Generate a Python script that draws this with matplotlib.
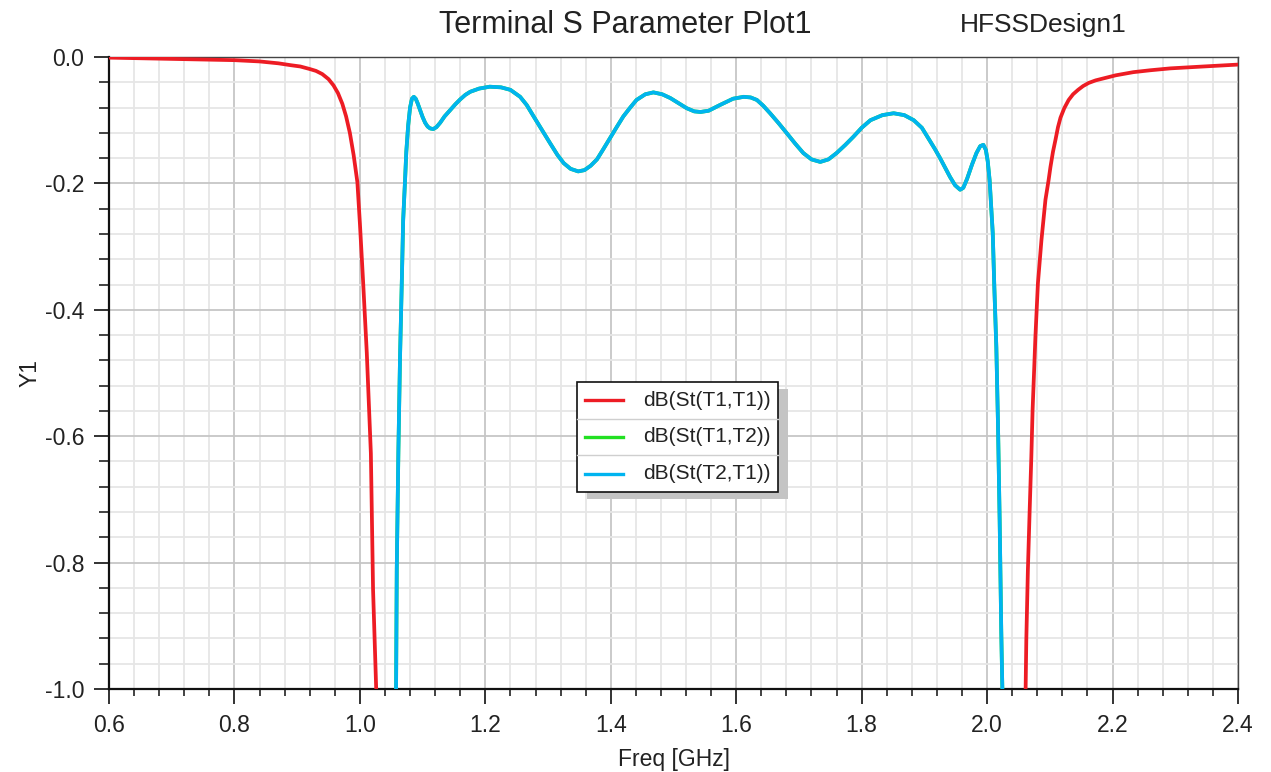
import matplotlib
matplotlib.use("Agg")
from matplotlib import pyplot as plt
from matplotlib.patches import Rectangle
from matplotlib.lines import Line2D
from matplotlib.ticker import MultipleLocator, FormatStrFormatter

# dB(St(T1,T1)) -- return loss, goes off-chart in the passband
freq_s11 = [0.60, 0.65, 0.70, 0.75, 0.80, 0.84, 0.87, 0.89, 0.905, 0.92, 0.93, 0.94, 0.95, 0.958,
            0.965, 0.972, 0.978, 0.984, 0.99, 0.996, 1.000, 1.005, 1.011, 1.0175, 1.021, 1.026, 1.028,
            2.059, 2.0614, 2.0625, 2.065, 2.0677, 2.0705, 2.0725, 2.077, 2.081, 2.0866, 2.093,
            2.098, 2.101, 2.105, 2.109, 2.113, 2.117, 2.123, 2.13, 2.137, 2.145, 2.153, 2.162,
            2.173, 2.185, 2.205, 2.233, 2.26, 2.292, 2.345, 2.40]
s11_db = [-0.001, -0.002, -0.003, -0.004, -0.005, -0.007, -0.010, -0.013, -0.015, -0.019, -0.022, -0.027,
          -0.035, -0.045, -0.057, -0.074, -0.094, -0.120, -0.155, -0.198, -0.263, -0.353, -0.468, -0.627,
          -0.843, -1.0, -1.04,
          -1.04, -1.0, -0.922, -0.812, -0.722, -0.633, -0.559, -0.443, -0.358, -0.290, -0.226,
          -0.195, -0.174, -0.150, -0.131, -0.111, -0.096, -0.081, -0.068, -0.059, -0.052, -0.046, -0.041,
          -0.037, -0.034, -0.029, -0.024, -0.021, -0.018, -0.015, -0.012]

# dB(St(T2,T1)) -- insertion loss; St(T1,T2) is identical (reciprocal), hidden underneath
freq_s21 = [1.0565, 1.0577, 1.0588, 1.0614, 1.064, 1.067, 1.069, 1.072, 1.074, 1.077, 1.080, 1.083,
            1.086, 1.089, 1.092, 1.096, 1.100, 1.104, 1.108, 1.112, 1.117, 1.122, 1.128, 1.135, 1.144,
            1.152, 1.160, 1.168, 1.176, 1.19, 1.207, 1.225, 1.24, 1.2555, 1.266, 1.277, 1.290, 1.303,
            1.315, 1.325, 1.336, 1.348, 1.358, 1.368, 1.378, 1.388, 1.399, 1.410, 1.420, 1.431, 1.441,
            1.455, 1.468, 1.482, 1.495, 1.508, 1.521, 1.533, 1.543, 1.556, 1.574, 1.595, 1.612, 1.623,
            1.633, 1.643, 1.654, 1.667, 1.681, 1.694, 1.707, 1.720, 1.734, 1.747, 1.760, 1.774, 1.787,
            1.800, 1.814, 1.833, 1.851, 1.868, 1.883, 1.896, 1.909, 1.917, 1.925, 1.933, 1.941, 1.949,
            1.957, 1.962, 1.968, 1.976, 1.983, 1.989, 1.994, 1.998, 2.001, 2.004, 2.009, 2.0115,
            2.0147, 2.0173, 2.020, 2.0226, 2.0243, 2.026]
s21_db = [-1.04, -1.0, -0.809, -0.622, -0.475, -0.348, -0.258, -0.195, -0.15, -0.108, -0.080, -0.066,
          -0.063, -0.066, -0.073, -0.084, -0.095, -0.104, -0.110, -0.113, -0.114, -0.111, -0.104, -0.094,
          -0.084, -0.075, -0.067, -0.060, -0.055, -0.050, -0.047, -0.048, -0.052, -0.063, -0.076, -0.094,
          -0.115, -0.136, -0.155, -0.168, -0.177, -0.181, -0.179, -0.172, -0.162, -0.146, -0.128, -0.110,
          -0.094, -0.080, -0.068, -0.059, -0.056, -0.059, -0.065, -0.073, -0.081, -0.086, -0.087, -0.085,
          -0.076, -0.066, -0.063, -0.064, -0.068, -0.077, -0.089, -0.104, -0.121, -0.137, -0.152, -0.162,
          -0.166, -0.162, -0.152, -0.139, -0.126, -0.112, -0.100, -0.092, -0.089, -0.092, -0.100, -0.112,
          -0.133, -0.146, -0.160, -0.175, -0.190, -0.203, -0.21, -0.207, -0.193, -0.170, -0.152, -0.141,
          -0.139, -0.147, -0.165, -0.195, -0.279, -0.364, -0.459, -0.579, -0.733, -0.911, -1.0, -1.04]
freq_s12 = freq_s21
s12_db = s21_db

labels = ["dB(St(T1,T1))", "dB(St(T1,T2))", "dB(St(T2,T1))"]
colors = ["#ED1C24", "#22E022", "#00B4F0"]

W, H = 1271, 772


def fx(px):
    return px / W


def fy(py):
    return 1 - py / H


def draw_legend(fig):
    # HFSS-style boxed legend with separators and drop shadow, in pixel coords
    x0, x1, y0, y1 = 577, 778, 382, 492
    fig.patches.append(Rectangle((fx(x0 + 10), fy(y1 + 7)), fx(x1 - x0), (y1 - y0) / H,
                                 transform=fig.transFigure, facecolor="#C4C4C4", edgecolor="none", zorder=5))
    fig.patches.append(Rectangle((fx(x0), fy(y1)), fx(x1 - x0), (y1 - y0) / H,
                                 transform=fig.transFigure, facecolor="white", edgecolor="#111111",
                                 linewidth=1.2, zorder=6))
    row_h = (y1 - y0) / 3
    for i, (lab, col) in enumerate(zip(labels, colors)):
        yc = y0 + row_h * (i + 0.5)
        fig.lines.append(Line2D([fx(585), fx(623)], [fy(yc), fy(yc)], transform=fig.transFigure,
                                color=col, linewidth=2.4, zorder=7))
        fig.text(fx(643), fy(yc), lab, ha="left", va="center", fontsize=15, color="#222222", zorder=7)
        if i > 0:
            ys = y0 + row_h * i
            fig.lines.append(Line2D([fx(x0), fx(x1)], [fy(ys), fy(ys)], transform=fig.transFigure,
                                    color="#CFCFCF", linewidth=1.0, zorder=7))


def main():
    plt.rcParams.update({"font.family": ["Liberation Sans", "DejaVu Sans"],
                         "axes.unicode_minus": False})
    fig = plt.figure(figsize=(W / 100, H / 100), dpi=100)
    ax = fig.add_axes([fx(109), fy(689), fx(1238 - 109), (689 - 57) / H])

    ax.plot(freq_s11, s11_db, color=colors[0], linewidth=2.7, zorder=3, solid_joinstyle="round")
    ax.plot(freq_s12, s12_db, color=colors[1], linewidth=2.7, zorder=3, solid_joinstyle="round")
    ax.plot(freq_s21, s21_db, color=colors[2], linewidth=2.7, zorder=4, solid_joinstyle="round")

    ax.set_xlim(0.6, 2.4)
    ax.set_ylim(-1.0, 0.0)
    ax.xaxis.set_major_locator(MultipleLocator(0.2))
    ax.xaxis.set_minor_locator(MultipleLocator(0.04))
    ax.yaxis.set_major_locator(MultipleLocator(0.2))
    ax.yaxis.set_minor_locator(MultipleLocator(0.04))
    ax.xaxis.set_major_formatter(FormatStrFormatter("%.1f"))
    ax.yaxis.set_major_formatter(FormatStrFormatter("%.1f"))

    ax.grid(which="major", color="#C6C6C6", linewidth=1.3, zorder=0)
    ax.grid(which="minor", color="#E6E6E6", linewidth=1.3, zorder=0)
    ax.set_axisbelow(True)

    ax.tick_params(which="major", direction="out", length=11, width=1.3, color="#222222",
                   labelsize=16.5, labelcolor="#222222", pad=7)
    ax.tick_params(which="minor", direction="out", length=5, width=1.2, color="#222222")
    ax.tick_params(axis="y", which="minor", length=7)
    for side in ["left", "bottom"]:
        ax.spines[side].set_color("#111111")
        ax.spines[side].set_linewidth(1.6)
    for side in ["top", "right"]:
        ax.spines[side].set_color("#444444")
        ax.spines[side].set_linewidth(1.0)

    ax.set_xlabel("Freq [GHz]", fontsize=16.5, color="#222222", labelpad=8)
    ax.set_ylabel("Y1", fontsize=16.5, color="#222222", labelpad=2)

    fig.text(fx(625), fy(25), "Terminal S Parameter Plot1", ha="center", va="center",
             fontsize=22, color="#222222")
    fig.text(fx(1043), fy(25), "HFSSDesign1", ha="center", va="center", fontsize=19, color="#222222")

    draw_legend(fig)
    fig.savefig("out.png", dpi=100)


if __name__ == '__main__':
    main()
